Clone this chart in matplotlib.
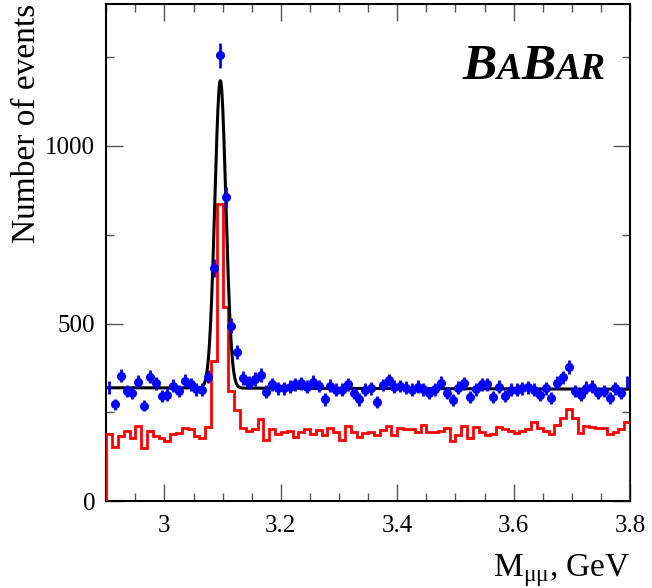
import numpy as np
import matplotlib
matplotlib.use("Agg")
import matplotlib.pyplot as plt
from matplotlib.offsetbox import TextArea, HPacker, AnchoredOffsetbox

plt.rcParams['font.family'] = ['Liberation Serif', 'DejaVu Serif']
plt.rcParams['mathtext.fontset'] = 'custom'
plt.rcParams['mathtext.rm'] = 'Liberation Serif'

# ---- data ----
x_min, x_max, n_bins = 2.9, 3.8, 90

counts = [320, 272, 353, 310, 303, 336, 269, 350, 331, 296,
          300, 325, 310, 339, 329, 315, 313, 350, 657, 1256,
          855, 494, 420, 346, 333, 344, 355, 308, 329, 317,
          317, 322, 329, 331, 322, 336, 324, 286, 325, 313,
          313, 329, 303, 286, 313, 317, 278, 327, 341, 322,
          324, 319, 313, 322, 315, 305, 315, 333, 305, 285,
          319, 331, 292, 315, 329, 329, 292, 322, 296, 313,
          313, 317, 320, 313, 299, 317, 289, 333, 348, 377,
          310, 299, 319, 322, 305, 310, 289, 317, 305, 335]

errors = [18, 16, 19, 18, 17, 18, 16, 19, 18, 17,
          17, 18, 18, 18, 18, 18, 18, 19, 26, 35,
          29, 22, 20, 19, 18, 19, 19, 18, 18, 18,
          18, 18, 18, 18, 18, 18, 18, 17, 18, 18,
          18, 18, 17, 17, 18, 18, 17, 18, 18, 18,
          18, 18, 18, 18, 18, 17, 18, 18, 17, 17,
          18, 18, 17, 18, 18, 18, 17, 18, 17, 18,
          18, 18, 18, 18, 17, 18, 17, 18, 19, 19,
          18, 17, 18, 18, 17, 18, 17, 18, 17, 18]

red_hist = [188, 153, 183, 198, 177, 211, 148, 197, 183, 177,
            170, 189, 191, 207, 202, 183, 177, 209, 395, 837,
            546, 310, 256, 207, 198, 204, 230, 172, 204, 189,
            193, 198, 181, 195, 202, 189, 200, 186, 207, 195,
            173, 211, 195, 181, 192, 195, 186, 200, 211, 186,
            205, 202, 202, 195, 214, 195, 195, 198, 205, 170,
            186, 211, 177, 208, 195, 186, 188, 209, 202, 198,
            192, 198, 202, 223, 205, 198, 188, 214, 233, 258,
            233, 192, 211, 208, 205, 205, 189, 195, 202, 223]

# fit model parameters (Gaussian peak + linear background)
fit_mean, fit_sigma, fit_amp = 3.0960, 0.0095, 866
bkg_left, bkg_right = 319, 315

x_ticks = [3.0, 3.2, 3.4, 3.6, 3.8]
x_tick_labels = ["3", "3.2", "3.4", "3.6", "3.8"]
y_ticks = [0, 500, 1000]

# ---- figure ----
W, H = 652, 588
fig = plt.figure(figsize=(W / 100, H / 100), dpi=100)
ax = fig.add_axes([106.3 / W, (H - 501) / H, (630 - 106.3) / W, (501 - 4) / H])

edges = np.linspace(x_min, x_max, n_bins + 1)
centers = 0.5 * (edges[:-1] + edges[1:])
counts_a = np.array(counts, float)
errors_a = np.array(errors, float)

ax.stairs(red_hist, edges, baseline=0, color='#ff0000', lw=2.0, zorder=3)

xf = np.linspace(x_min + 0.003, x_max - 0.003, 2000)
bkg = bkg_left + (bkg_right - bkg_left) * (xf - x_min) / (x_max - x_min)
yf = bkg + fit_amp * np.exp(-0.5 * ((xf - fit_mean) / fit_sigma) ** 2)
ax.plot(xf, yf, color='black', lw=2.2, zorder=3.5)

inner = slice(1, n_bins - 1)
ax.errorbar(centers[inner], counts_a[inner], yerr=errors_a[inner], fmt='o',
            color='#0000ff', ms=5.5, elinewidth=2.0, capsize=0, zorder=4)
# edge bins drawn without marker
for i in (0, n_bins - 1):
    ax.errorbar(centers[i], counts_a[i], yerr=errors_a[i], fmt='none',
                ecolor='#0000ff', elinewidth=2.0, capsize=0, zorder=4)

ax.set_xlim(x_min, x_max)
ax.set_ylim(0, 1400)
ax.set_xticks(x_ticks)
ax.set_xticklabels(x_tick_labels)
ax.set_xticks(np.arange(2.9, 3.8001, 0.05), minor=True)
ax.set_yticks(y_ticks)
ax.set_yticks(np.arange(0, 1400, 250), minor=True)

ax.tick_params(which='both', direction='in', top=True, right=True,
               labelsize=18, color='#555555', width=1.0)
ax.tick_params(which='major', length=12)
ax.tick_params(which='minor', length=6)
ax.tick_params(axis='x', pad=10)
ax.tick_params(axis='y', pad=8)
for s in ax.spines.values():
    s.set_linewidth(1.5)

ax.set_ylabel("Number of events", fontsize=24, loc='top', labelpad=2)
ax.set_xlabel(r"M$_{\mathregular{μμ}}$, GeV", fontsize=24, loc='right', labelpad=11)

# BaBar logo
tp_big = dict(size=37, fontweight='bold', fontstyle='italic', family='Liberation Serif')
tp_small = dict(size=27, fontweight='bold', fontstyle='italic', family='Liberation Serif')
logo = HPacker(children=[TextArea("B", textprops=tp_big),
                         TextArea("A", textprops=tp_small),
                         TextArea("B", textprops=tp_big),
                         TextArea("AR", textprops=tp_small)],
               align='baseline', pad=0, sep=0)
anch = AnchoredOffsetbox(loc='upper right', child=logo, frameon=False,
                         bbox_to_anchor=(606 / W, 1 - 44 / H),
                         bbox_transform=fig.transFigure, borderpad=0, pad=0)
fig.add_artist(anch)

fig.savefig("out.png", dpi=100)
